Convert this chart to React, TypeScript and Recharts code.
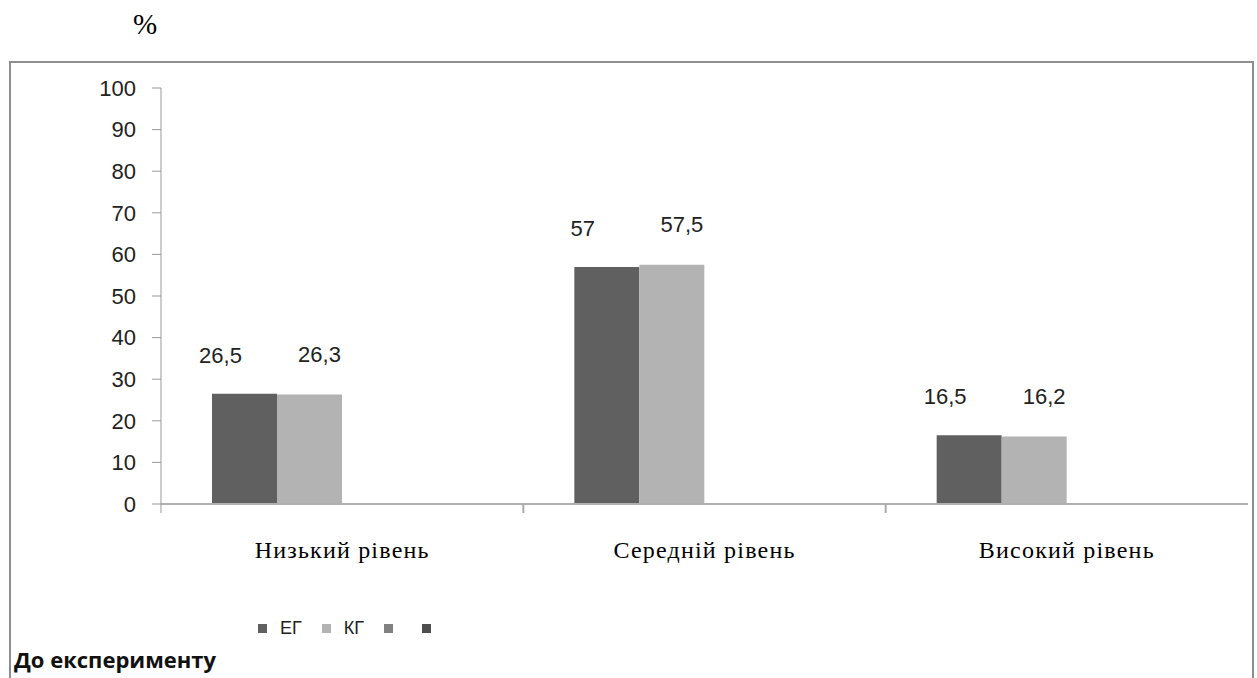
import { BarChart, Bar, XAxis, YAxis } from 'recharts'

const categories = ['Низький рівень', 'Середній рівень', 'Високий рівень']
const egValues = [26.5, 57, 16.5]
const kgValues = [26.3, 57.5, 16.2]
const yTicks = [0, 10, 20, 30, 40, 50, 60, 70, 80, 90, 100]
const seriesNames = ['ЕГ', 'КГ', '', '']
const seriesColors = ['#606060', '#b3b3b3', '#818181', '#4e4e4e']

const chartData = categories.map((name, i) => ({
  name,
  eg: egValues[i],
  kg: kgValues[i],
  s3: null,
  s4: null,
}))

const W = 1257
const H = 678
const PLOT_LEFT = 161
const PLOT_RIGHT = 1248
const PLOT_BOTTOM = 504
const BAND = (PLOT_RIGHT - PLOT_LEFT) / categories.length
const SANS = "'Liberation Sans', Arial, sans-serif"
const SERIF = "'Liberation Serif', 'Times New Roman', serif"

const fmt = (v: number) => String(v).replace('.', ',')

const makeLabel = (dx: number, dy: number) => (props: any) => {
  const { x, y, width, value } = props
  if (value == null) return null
  return (
    <text x={x + width / 2 + dx} y={y - dy} textAnchor="middle" fontSize={22} fill="#222" fontFamily={SANS}>
      {fmt(value)}
    </text>
  )
}

const CategoryTick = (props: any) => {
  const { x, y, payload, index } = props
  const axisY = y - 30
  return (
    <g>
      {index === 0 && <line x1={x - BAND / 2} x2={x - BAND / 2} y1={axisY} y2={axisY + 9} stroke="#999" />}
      {index < categories.length - 1 && (
        <line x1={x + BAND / 2} x2={x + BAND / 2} y1={axisY} y2={axisY + 9} stroke="#aaa" strokeWidth={2} />
      )}
      <text x={x} y={axisY + 54} textAnchor="middle" fontSize={24} letterSpacing={1.2} fill="#000" fontFamily={SERIF}>
        {payload.value}
      </text>
    </g>
  )
}

function LegendBox() {
  return (
    <div style={{ position: 'absolute', left: 258, top: 617, height: 22, display: 'flex', alignItems: 'center', fontFamily: SANS, fontSize: 18, color: '#222' }}>
      {seriesNames.map((n, i) => (
        <div key={i} style={{ display: 'flex', alignItems: 'center', marginRight: n ? 20 : 29 }}>
          <span style={{ display: 'inline-block', width: 9, height: 9, background: seriesColors[i], marginRight: n ? 13 : 0 }} />
          {n && <span>{n}</span>}
        </div>
      ))}
    </div>
  )
}

export default function App() {
  return (
    <div style={{ position: 'fixed', left: 0, top: 0, width: W, height: H, overflow: 'hidden', background: '#fff' }}>
      <div style={{ position: 'absolute', left: 133, top: 8, fontSize: 29, fontFamily: SERIF }}>%</div>
      <div style={{ position: 'absolute', left: 9, top: 61, width: 1241, height: 700, border: '2px solid #8e8e8e' }} />
      <div style={{ position: 'absolute', left: 0, top: 0 }}>
        <BarChart width={W} height={H} data={chartData}
          margin={{ top: 88, right: W - PLOT_RIGHT, left: PLOT_LEFT - 70, bottom: H - PLOT_BOTTOM - 70 }}
          barGap={0} barCategoryGap={51}>
          <XAxis dataKey="name" height={70} tickLine={false} tickSize={0} tickMargin={30}
            axisLine={{ stroke: '#b0b0b0', strokeWidth: 2 }} tick={<CategoryTick />} interval={0} />
          <YAxis width={70} domain={[0, 100]} ticks={yTicks} interval={0} tickSize={9} tickMargin={16}
            axisLine={{ stroke: '#999' }} tickLine={{ stroke: '#999' }}
            tick={{ fontSize: 22, fill: '#222', fontFamily: SANS }} />
          <Bar dataKey="eg" name={seriesNames[0]} fill={seriesColors[0]} isAnimationActive={false} label={makeLabel(-24, 31)} />
          <Bar dataKey="kg" name={seriesNames[1]} fill={seriesColors[1]} isAnimationActive={false} label={makeLabel(10, 33)} />
          <Bar dataKey="s3" name={seriesNames[2]} fill={seriesColors[2]} isAnimationActive={false} />
          <Bar dataKey="s4" name={seriesNames[3]} fill={seriesColors[3]} isAnimationActive={false} />
        </BarChart>
      </div>
      <LegendBox />
      <div style={{ position: 'absolute', left: 14, top: 646, fontSize: 22, fontWeight: 'bold', fontFamily: "'Open Sans', sans-serif", color: '#111', lineHeight: '26px' }}>
        До експерименту
      </div>
    </div>
  )
}
